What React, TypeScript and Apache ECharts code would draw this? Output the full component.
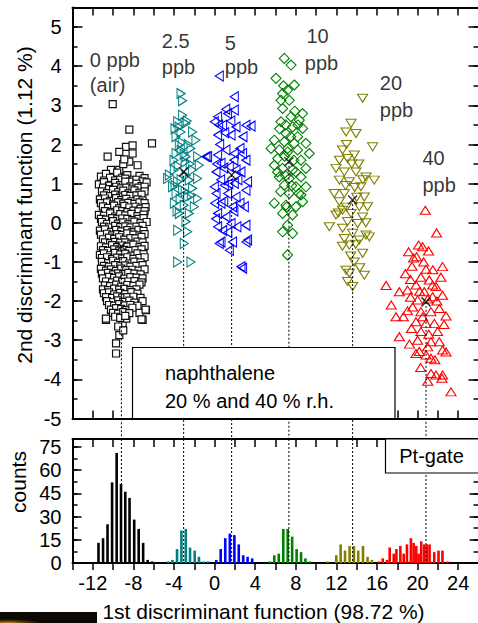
import React, { useEffect, useRef } from "react";
import * as echarts from "echarts";

const FONT = "Liberation Sans, Arial, sans-serif";

// ---------- scatter clusters (1st DF, 2nd DF) ----------
const blackPts: number[][] = [
  [-10.04, 3.03], [-8.4, 2.38], [-6.17, 2.03], [-8.73, 1.94], [-8.08, 1.98], [-9.39, 1.81], [-10.54, 1.69], [-8.08, 1.77],
  [-8.4, 1.56], [-10.21, 1.35], [-9.39, 1.35], [-7.59, 1.47], [-9.0, 1.5], [-8.9, 1.62],
  [-9.71, -3.08], [-9.71, -3.34], [-6.76, -2.23], [-7.09, -2.48], [-9.06, -2.57], [-9.39, -2.87], [-10.7, -2.48],
  [-10.21, -2.23], [-9.5, -2.65], [-8.7, -2.45], [-9.0, -2.75], [-7.4, -2.3],
  [-11.2, 1.18], [-10.7, 1.25], [-10.1, 1.12], [-9.6, 1.28], [-9.1, 1.15], [-8.6, 1.22], [-8.0, 1.1], [-7.4, 1.2], [-6.9, 1.14],
  [-10.9, 1.08], [-10.3, 1.15], [-9.8, 1.08], [-9.3, 1.1], [-8.8, 1.13], [-8.3, 1.05], [-7.7, 1.1], [-7.1, 1.06],
  [-11.4, 0.98], [-10.9, 1.04], [-10.4, 0.95], [-9.8, 1.02], [-9.3, 0.96], [-8.8, 1.05], [-8.3, 0.93], [-7.7, 1.0], [-7.2, 0.94], [-6.7, 1.03],
  [-11.0, 0.9], [-10.4, 0.86], [-9.7, 0.92], [-9.2, 0.88], [-8.7, 0.9], [-8.1, 0.87], [-7.5, 0.9], [-6.9, 0.92],
  [-11.1, 0.8], [-10.6, 0.76], [-10.0, 0.84], [-9.5, 0.78], [-9.0, 0.82], [-8.5, 0.75], [-7.9, 0.83], [-7.4, 0.77], [-6.9, 0.8],
  [-10.9, 0.7], [-10.3, 0.68], [-9.8, 0.72], [-9.3, 0.67], [-8.8, 0.71], [-8.3, 0.69], [-7.7, 0.7], [-7.2, 0.72],
  [-11.3, 0.6], [-10.8, 0.62], [-10.3, 0.56], [-9.7, 0.63], [-9.2, 0.58], [-8.7, 0.61], [-8.2, 0.55], [-7.6, 0.6], [-7.1, 0.57],
  [-11.2, 0.5], [-10.6, 0.52], [-10.0, 0.47], [-9.5, 0.53], [-9.0, 0.49], [-8.5, 0.51], [-7.9, 0.48], [-7.4, 0.52], [-6.9, 0.5],
  [-11.0, 0.42], [-10.5, 0.38], [-9.9, 0.44], [-9.4, 0.37], [-8.9, 0.43], [-8.4, 0.39], [-7.8, 0.41], [-7.3, 0.36], [-6.8, 0.4],
  [-10.8, 0.3], [-10.2, 0.28], [-9.6, 0.32], [-9.1, 0.3], [-8.6, 0.27], [-8.0, 0.31], [-7.5, 0.29], [-6.9, 0.3],
  [-11.4, 0.2], [-10.9, 0.18], [-10.3, 0.24], [-9.8, 0.16], [-9.3, 0.22], [-8.8, 0.19], [-8.2, 0.23], [-7.6, 0.17], [-7.0, 0.21],
  [-11.2, 0.1], [-10.7, 0.08], [-10.1, 0.12], [-9.6, 0.09], [-9.1, 0.11], [-8.6, 0.1], [-8.1, 0.07], [-7.5, 0.1], [-7.0, 0.12],
  [-11.1, 0.02], [-10.6, -0.03], [-10.0, 0.04], [-9.5, -0.02], [-9.0, 0.01], [-8.5, -0.04], [-7.9, 0.03], [-7.3, -0.01], [-6.7, 0.02],
  [-10.9, -0.1], [-10.4, -0.12], [-9.8, -0.08], [-9.3, -0.11], [-8.8, -0.09], [-8.3, -0.12], [-7.7, -0.1], [-7.1, -0.08],
  [-11.3, -0.2], [-10.8, -0.17], [-10.2, -0.23], [-9.7, -0.18], [-9.2, -0.22], [-8.6, -0.19], [-8.1, -0.24], [-7.5, -0.18], [-7.0, -0.21],
  [-11.2, -0.3], [-10.6, -0.28], [-10.1, -0.32], [-9.6, -0.29], [-9.1, -0.31], [-8.6, -0.27], [-8.0, -0.3], [-7.4, -0.32], [-6.9, -0.29],
  [-11.0, -0.42], [-10.4, -0.38], [-9.9, -0.41], [-9.4, -0.37], [-8.9, -0.43], [-8.3, -0.39], [-7.8, -0.4], [-7.2, -0.36],
  [-10.8, -0.5], [-10.3, -0.52], [-9.8, -0.49], [-9.3, -0.51], [-8.8, -0.5], [-8.2, -0.53], [-7.6, -0.48], [-7.1, -0.5],
  [-11.2, -0.6], [-10.7, -0.63], [-10.1, -0.57], [-9.6, -0.62], [-9.1, -0.58], [-8.6, -0.61], [-8.0, -0.56], [-7.4, -0.62], [-6.9, -0.59],
  [-11.0, -0.7], [-10.5, -0.72], [-9.9, -0.68], [-9.4, -0.71], [-8.9, -0.69], [-8.4, -0.72], [-7.8, -0.7], [-7.2, -0.68],
  [-11.3, -0.82], [-10.9, -0.78], [-10.3, -0.83], [-9.8, -0.77], [-9.3, -0.81], [-8.8, -0.79], [-8.2, -0.84], [-7.6, -0.78], [-7.0, -0.8],
  [-11.1, -0.9], [-10.6, -0.88], [-10.1, -0.92], [-9.6, -0.89], [-9.1, -0.91], [-8.6, -0.88], [-8.0, -0.92], [-7.4, -0.9], [-6.9, -0.88],
  [-11.1, -1.0], [-10.5, -1.03], [-10.0, -0.97], [-9.5, -1.02], [-9.0, -0.98], [-8.4, -1.04], [-7.9, -0.99], [-7.3, -1.01],
  [-10.9, -1.1], [-10.4, -1.12], [-9.8, -1.08], [-9.3, -1.11], [-8.8, -1.09], [-8.3, -1.12], [-7.7, -1.1], [-7.1, -1.08],
  [-11.2, -1.18], [-10.7, -1.22], [-10.2, -1.19], [-9.7, -1.23], [-9.2, -1.17], [-8.7, -1.21], [-8.1, -1.2], [-7.5, -1.22], [-6.9, -1.19],
  [-11.1, -1.3], [-10.5, -1.28], [-10.0, -1.32], [-9.5, -1.29], [-9.0, -1.31], [-8.5, -1.28], [-7.9, -1.3], [-7.3, -1.32],
  [-11.0, -1.42], [-10.4, -1.38], [-9.9, -1.41], [-9.4, -1.37], [-8.9, -1.43], [-8.3, -1.39], [-7.7, -1.4], [-7.1, -1.42],
  [-10.7, -1.5], [-10.1, -1.52], [-9.6, -1.48], [-9.1, -1.51], [-8.5, -1.5], [-7.9, -1.49], [-7.2, -1.52],
  [-10.8, -1.6], [-10.3, -1.62], [-9.7, -1.58], [-9.2, -1.63], [-8.6, -1.59], [-8.0, -1.61], [-7.4, -1.58],
  [-11.0, -1.7], [-10.5, -1.72], [-9.9, -1.68], [-9.4, -1.71], [-8.9, -1.69], [-8.3, -1.72], [-7.7, -1.7],
  [-10.9, -1.8], [-10.4, -1.78], [-9.9, -1.83], [-9.3, -1.79], [-8.8, -1.82], [-8.2, -1.77], [-7.6, -1.81],
  [-10.7, -1.9], [-10.1, -1.92], [-9.6, -1.88], [-9.1, -1.91], [-8.6, -1.9], [-8.0, -1.89], [-7.3, -1.92],
  [-10.6, -2.0], [-10.0, -2.03], [-9.5, -1.98], [-9.0, -2.02], [-8.4, -1.99], [-7.9, -2.04], [-7.1, -2.0],
  [-10.4, -2.1], [-9.9, -2.12], [-9.4, -2.08], [-8.9, -2.11], [-8.3, -2.1], [-7.6, -2.12],
  [-10.2, -2.22], [-9.7, -2.18], [-9.2, -2.2], [-8.7, -2.23], [-8.1, -2.17], [-6.8, -2.22],
  [-10.0, -2.3], [-9.5, -2.32], [-9.0, -2.28], [-8.4, -2.31],
  [-10.7, -2.45], [-9.8, -2.4], [-9.3, -2.43], [-8.8, -2.38], [-7.2, -2.47],
];

const tealPts: number[][] = [
  [-3.31, 3.3], [-3.15, 3.12], [-3.15, 2.75], [-3.64, 2.58], [-2.82, 2.54], [-3.31, 2.32], [-3.8, 2.2], [-2.17, 2.32],
  [-1.84, 2.11], [-3.48, 1.98], [-2.33, 1.9], [-3.8, 1.77], [-2.82, 1.69], [-1.67, 1.69], [-4.46, 1.22], [-3.97, 1.35],
  [-2.17, 1.35], [-1.51, 1.47], [-4.63, 1.13], [-3.64, 1.05], [-2.49, 1.09], [-1.67, 1.13], [-4.14, 0.92], [-3.15, 0.84],
  [-2.17, 0.88], [-3.8, 0.75], [-2.66, 0.66], [-1.67, 0.62], [-3.97, 0.5], [-2.99, 0.45], [-2.0, 0.41], [-3.48, 0.24],
  [-2.49, 0.24], [-2.82, 0.03], [-3.64, -0.19], [-2.66, -0.23], [-2.99, -0.53], [-3.64, -1.0], [-2.33, -1.0],
  [-3.5, 2.45], [-2.6, 2.0], [-3.3, 1.85], [-4.0, 1.6], [-2.9, 1.55], [-3.6, 1.45], [-2.4, 1.5], [-3.3, 1.1], [-2.8, 1.2],
  [-3.9, 0.95], [-2.3, 0.7], [-3.4, 0.6], [-2.9, 0.8], [-3.7, 0.3], [-3.2, 2.05], [-2.7, 2.6], [-3.9, 2.4], [-3.0, 1.75],
];

const bluePts: number[][] = [
  [0.46, 3.75], [1.94, 3.22], [0.3, 2.71], [1.28, 2.79], [1.94, 2.88], [-0.03, 2.58], [0.79, 2.49], [2.11, 2.45],
  [1.62, 2.24], [0.3, 2.24], [-0.69, 1.69], [0.3, 1.73], [1.12, 1.86], [1.94, 1.77], [0.63, 1.52], [1.45, 1.43],
  [2.11, 1.35], [0.14, 1.3], [-0.03, 0.92], [0.96, 0.96], [1.94, 1.01], [0.14, 0.75], [1.28, 0.75], [2.11, 0.66],
  [0.63, 0.5], [1.77, 0.41], [0.3, 0.24], [1.12, 0.15], [0.3, -0.1], [1.62, -0.02], [0.63, -0.49], [1.77, -0.49],
  [1.45, -0.7], [2.6, -1.12], [3.09, -0.49], [3.09, 1.6], [3.09, 2.49], [-0.85, 1.69], [0.46, -0.53],
  [3.59, 2.47], [2.76, 1.77], [3.25, 1.05], [3.09, 0.83], [2.93, 0.41], [3.09, -0.06], [3.25, -0.44], [2.76, -1.16],
  [0.5, 2.0], [1.0, 2.3], [1.6, 2.6], [0.2, 1.5], [0.9, 1.4], [1.9, 1.6], [2.5, 1.9], [0.6, 1.1], [1.4, 1.0], [2.3, 1.1],
  [0.0, 0.5], [0.9, 0.55], [1.9, 0.3], [2.5, 0.5], [0.8, -0.2], [1.3, -0.25], [2.2, -0.1], [0.1, 0.1], [2.8, 2.2],
  [2.6, 1.3], [1.1, 2.9], [0.4, 2.5],
];

const greenPts: number[][] = [
  [6.87, 4.2], [7.53, 4.03], [6.05, 3.69], [7.85, 3.52], [7.19, 3.39], [6.7, 3.3], [6.54, 3.13], [7.36, 3.13],
  [6.7, 2.92], [8.67, 2.79], [7.53, 2.71], [8.34, 2.62], [6.54, 2.58], [7.68, 2.45], [8.67, 2.41], [7.03, 2.28],
  [8.18, 2.2], [5.88, 2.11], [6.87, 2.07], [7.85, 2.03], [9.0, 2.03], [5.56, 1.9], [6.37, 1.86], [7.19, 1.81],
  [8.18, 1.86], [9.33, 1.77], [6.21, 1.64], [8.51, 1.6], [5.88, 1.47], [6.7, 1.39], [7.68, 1.35], [9.0, 1.39],
  [6.37, 1.17], [7.36, 1.13], [8.51, 1.17], [6.87, 0.96], [8.02, 0.92], [9.0, 0.92], [7.36, 0.75], [8.51, 0.71],
  [5.88, 0.5], [7.03, 0.45], [8.02, 0.41], [8.67, 0.54], [6.7, 0.24], [7.68, 0.2], [7.19, -0.06], [6.7, -0.23],
  [7.68, -0.27], [7.19, -0.82],
  [7.0, 2.5], [7.5, 2.2], [6.4, 2.4], [8.2, 2.5], [7.8, 1.6], [6.9, 1.7], [7.2, 1.9], [8.0, 1.3], [6.5, 0.8],
  [7.6, 0.95], [7.1, 0.4], [8.3, 0.75], [7.0, 1.2], [6.2, 1.3], [7.9, 2.85], [6.8, 3.5],
];

const olivePts: number[][] = [
  [14.58, 3.18], [13.44, 2.54], [12.95, 2.32], [13.93, 2.28], [15.57, 1.94], [12.61, 1.86], [13.76, 1.73], [13.1, 1.64],
  [11.96, 1.39], [12.78, 1.3], [13.93, 1.3], [14.92, 1.17], [15.73, 1.09], [12.29, 1.09], [13.27, 1.05], [14.42, 0.92],
  [11.79, 0.75], [12.78, 0.75], [14.75, 0.66], [12.29, 0.54], [14.26, 0.41], [15.07, 0.41], [12.61, 0.32], [13.44, 0.24],
  [11.96, 0.2], [14.58, 0.15], [13.1, 0.03], [14.09, -0.02], [11.3, -0.1], [12.61, -0.14], [13.6, -0.27], [14.92, -0.31],
  [12.78, -0.4], [14.26, -0.44], [13.27, -0.57], [15.24, -0.36], [14.58, -0.78], [13.76, -1.0], [12.95, -1.21],
  [14.75, -1.34], [13.6, -1.63], [13.27, -1.29],
  [13.0, 2.0], [13.5, 1.5], [12.3, 1.6], [14.2, 1.5], [14.6, 1.1], [13.0, 0.4], [14.0, 0.65], [12.2, 0.25], [14.9, 0.0],
  [13.9, -0.55], [12.6, -0.6], [13.4, -0.85], [14.3, -1.15], [13.1, -1.5], [12.9, 0.95], [13.8, 0.9],
];

const redPts: number[][] = [
  [20.76, 0.32], [21.87, -0.26], [20.1, -0.57], [20.49, -0.61], [19.11, -0.74], [21.08, -0.72], [19.9, -0.87],
  [19.45, -1.11], [20.83, -1.19], [22.46, -1.12], [20.33, -1.39], [22.3, -1.39], [21.15, -1.46], [19.84, -1.59],
  [21.48, -1.59], [19.01, -1.72], [18.2, -1.76], [21.81, -1.63], [20.66, -1.76], [22.46, -1.85], [21.48, -1.89],
  [20.0, -1.97], [22.14, -2.19], [19.51, -2.15], [19.01, -2.25], [20.33, -2.27], [21.32, -2.27], [22.8, -2.38],
  [17.87, -2.4], [19.84, -2.53], [20.83, -2.57], [21.65, -2.57], [20.33, -2.78], [21.97, -2.78], [18.2, -2.91],
  [22.14, -3.04], [21.32, -3.04], [20.99, -3.17], [22.46, -3.25], [20.17, -3.29], [19.84, -3.34], [21.32, -3.46],
  [21.32, -3.85], [22.4, -3.97], [23.29, -4.32], [20.83, -3.38], [21.81, -3.89], [22.46, -3.89],
  [19.6, -0.9], [20.6, -1.0], [21.5, -1.2], [19.3, -1.45], [20.2, -1.75], [21.0, -1.95], [19.3, -1.9], [21.9, -2.0],
  [20.5, -2.4], [19.4, -2.7], [21.1, -2.85], [20.0, -3.0], [22.8, -3.3], [21.7, -3.5], [19.2, -3.1], [16.9, -1.6],
  [17.4, -2.1], [18.6, -2.4], [18.8, -1.3], [22.6, -2.6], [20.3, -3.7], [21.0, -4.05],
];

// cluster means (x markers)
const means: number[][] = [
  [-9.18, -0.6], [-3.05, 1.3], [1.68, 1.22], [7.32, 1.56], [13.6, 0.58], [20.83, -2.02],
];

// ---------- histograms of 1st DF: [bin centre, counts] ----------
const histBlack: number[][] = [
  [-11.44, 13], [-10.99, 16], [-10.55, 25], [-10.1, 52], [-9.65, 71], [-9.22, 51], [-8.8, 46], [-8.38, 42],
  [-7.92, 28], [-7.48, 22], [-7.04, 13], [-6.6, 2], [-6.16, 1],
];
const histTeal: number[][] = [
  [-4.58, 1], [-4.15, 2], [-3.7, 9], [-3.27, 21], [-2.84, 22], [-2.42, 10], [-1.96, 8], [-1.54, 4], [-1.08, 1], [-0.66, 1],
];
const histBlue: number[][] = [
  [0.16, 2], [0.6, 9], [1.05, 16], [1.5, 19], [1.95, 18], [2.38, 12], [2.82, 5], [3.25, 4], [3.7, 3],
];
const histGreen: number[][] = [
  [5.45, 1], [5.88, 5], [6.32, 6], [6.77, 22], [7.2, 22], [7.64, 17], [8.08, 9], [8.52, 7], [8.95, 3], [9.4, 1],
];
const histOlive: number[][] = [
  [11.1, 1], [11.99, 5], [12.42, 12], [12.85, 8], [13.3, 11], [13.73, 11], [14.15, 8], [14.62, 11], [15.07, 4], [15.5, 2],
];
const histRed: number[][] = [
  [16.18, 1], [16.57, 3], [16.99, 2], [17.25, 10], [17.65, 6], [17.91, 9], [18.3, 11], [18.63, 6], [18.95, 12],
  [19.34, 16], [19.61, 13], [19.87, 11], [20.1, 6], [20.36, 14], [20.66, 12], [20.91, 12], [21.18, 12], [21.64, 7],
  [22.06, 8], [22.45, 8], [22.94, 1],
];

// ---------- annotations [x, y, text] ----------
const annotations: [number, number, string][] = [
  [-12.34, 4.16, "0 ppb"], [-12.34, 3.52, "(air)"],
  [-5.25, 4.64, "2.5"], [-5.25, 3.99, "ppb"],
  [0.96, 4.6, "5"], [0.96, 3.98, "ppb"],
  [9.0, 4.76, "10"], [8.84, 4.08, "ppb"],
  [16.23, 3.57, "20"], [16.23, 2.88, "ppb"],
  [20.43, 1.65, "40"], [20.43, 0.97, "ppb"],
];

const COLORS = ["#000000", "#008080", "#0000ff", "#008000", "#808000", "#ff0000"];

export default function App() {
  const ref = useRef<HTMLDivElement>(null);

  useEffect(() => {
    const chart = echarts.init(ref.current!, null, { renderer: "svg" });

    const line = { show: true, onZero: false, lineStyle: { color: "#000", width: 2 } };
    const noLine = { show: false, onZero: false };

    const xAx = (grid: number, pos: string, inside: boolean, len: number, labels: boolean) => ({
      type: "value", gridIndex: grid, position: pos, min: -14, max: 26, interval: 2,
      axisLine: line,
      axisTick: { show: true, inside, length: len, lineStyle: { color: "#000", width: 1.5 } },
      axisLabel: labels
        ? {
            show: true, fontSize: 20, fontFamily: FONT, color: "#000", margin: 10,
            formatter: (v: number) => (v % 4 === 0 ? String(v) : ""),
          }
        : { show: false },
      splitLine: { show: false },
    });

    const yAx = (grid: number, pos: string, min: number, max: number, interval: number, len: number,
      major: boolean, labels: boolean, step: number) => ({
      type: "value", gridIndex: grid, position: pos, min, max, interval,
      axisLine: major ? line : noLine,
      axisTick: { show: true, inside: true, length: len, lineStyle: { color: "#000", width: 1.5 } },
      axisLabel: labels
        ? {
            show: true, fontSize: 20, fontFamily: FONT, color: "#000", margin: 11,
            formatter: (v: number) => (Math.abs(v / step - Math.round(v / step)) < 1e-6 ? String(v) : ""),
          }
        : { show: false },
      splitLine: { show: false },
    });

    const scat = (data: number[][], symbol: string, size: any, rotate: number, color: string, fill: string, bw: number) => ({
      type: "scatter", xAxisIndex: 0, yAxisIndex: 0, data, symbol, symbolSize: size, symbolRotate: rotate,
      itemStyle: { color: fill, borderColor: color, borderWidth: bw, opacity: 1 },
      z: 2, silent: true,
    });

    const hists = [histBlack, histTeal, histBlue, histGreen, histOlive, histRed];

    const histSeries = hists.map((h, i) => ({
      type: "custom", xAxisIndex: 2, yAxisIndex: 4, data: h, encode: { x: 0, y: 1 }, silent: true, z: 2,
      renderItem: (_p: any, api: any) => {
        const x = api.value(0);
        const y = api.value(1);
        const p0 = api.coord([x, 0]);
        const p1 = api.coord([x, y]);
        const w = 2.6;
        return {
          type: "rect",
          shape: { x: p0[0] - w / 2, y: p1[1], width: w, height: p0[1] - p1[1] },
          style: { fill: COLORS[i] },
        };
      },
    }));

    const topLines = means.map((m) => ({
      type: "line", xAxisIndex: 0, yAxisIndex: 0, data: [[m[0], m[1]], [m[0], -5.53]], symbol: "none",
      clip: false, silent: true, z: 4, lineStyle: { color: "#000", width: 1, type: [2, 2] },
    }));
    const botLines = means.map((m) => ({
      type: "line", xAxisIndex: 2, yAxisIndex: 4, data: [[m[0], 80], [m[0], 0]], symbol: "none",
      clip: false, silent: true, z: 4, lineStyle: { color: "#000", width: 1, type: [2, 2] },
    }));

    const option: any = {
      animation: false,
      backgroundColor: "#fff",
      grid: [
        { left: 72.5, top: 7.5, width: 406, height: 411, outerBoundsMode: "none", containLabel: false },
        { left: 72.5, top: 439, width: 406, height: 124, outerBoundsMode: "none", containLabel: false },
      ],
      xAxis: [
        xAx(0, "bottom", true, 8, false),
        xAx(0, "top", true, 8, false),
        xAx(1, "bottom", false, 7, true),
        xAx(1, "top", true, 8, false),
      ],
      yAxis: [
        yAx(0, "left", -5, 5.5, 1, 10, true, true, 1),
        yAx(0, "left", -5, 5.5, 0.5, 5, false, false, 1),
        yAx(0, "right", -5, 5.5, 1, 10, true, false, 1),
        yAx(0, "right", -5, 5.5, 0.5, 5, false, false, 1),
        yAx(1, "left", 0, 80, 15, 9, true, true, 15),
        yAx(1, "left", 0, 80, 7.5, 5, false, false, 15),
        yAx(1, "right", 0, 80, 15, 9, true, false, 15),
        yAx(1, "right", 0, 80, 7.5, 5, false, false, 15),
      ],
      series: [
        scat(blackPts, "rect", 7, 0, "#111", "#fff", 1.2),
        scat(tealPts, "triangle", [10, 8], -90, COLORS[1], "rgba(0,0,0,0)", 1.1),
        scat(bluePts, "triangle", [10, 8], 90, COLORS[2], "rgba(0,0,0,0)", 1.1),
        scat(greenPts, "diamond", [10, 10], 0, COLORS[3], "rgba(0,0,0,0)", 1.1),
        scat(olivePts, "triangle", [10, 8], 180, COLORS[4], "rgba(0,0,0,0)", 1.1),
        scat(redPts, "triangle", [10, 8], 0, COLORS[5], "rgba(0,0,0,0)", 1.1),
        ...topLines,
        ...botLines,
        {
          type: "scatter", xAxisIndex: 0, yAxisIndex: 0, data: means, symbol: "path://M0 0L10 10M10 0L0 10",
          symbolSize: 9, itemStyle: { color: "rgba(0,0,0,0)", borderColor: "#000", borderWidth: 1.5 }, z: 5, silent: true,
        },
        ...histSeries,
        {
          type: "scatter", xAxisIndex: 0, yAxisIndex: 0, silent: true, z: 6,
          data: annotations.map((a) => ({ value: [a[0], a[1]], name: a[2] })),
          symbolSize: 1, itemStyle: { color: "rgba(0,0,0,0)" },
          label: {
            show: true, position: "right", distance: 0, formatter: "{b}", fontSize: 20, fontFamily: FONT, color: "#000",
          },
        },
      ],
      graphic: [
        {
          type: "rect", z: 100, shape: { x: 132.5, y: 347.5, width: 262.5, height: 71 },
          style: { fill: "#fff", stroke: "#000", lineWidth: 1.2 },
        },
        { type: "text", z: 101, x: 165, y: 373, style: { text: "naphthalene", fontSize: 20, fontFamily: FONT, fill: "#000", align: "left", verticalAlign: "middle" } },
        { type: "text", z: 101, x: 165, y: 401, style: { text: "20 % and 40 % r.h.", fontSize: 20, fontFamily: FONT, fill: "#000", align: "left", verticalAlign: "middle" } },
        {
          type: "rect", z: 100, shape: { x: 385.5, y: 439, width: 95, height: 34 },
          style: { fill: "#fff", stroke: "#000", lineWidth: 1.2 },
        },
        { type: "text", z: 101, x: 431.5, y: 456, style: { text: "Pt-gate", fontSize: 20, fontFamily: FONT, fill: "#000", align: "center", verticalAlign: "middle" } },
        { type: "text", z: 101, x: 263.5, y: 611, style: { text: "1st discriminant function (98.72 %)", fontSize: 21, fontFamily: FONT, fill: "#000", align: "center", verticalAlign: "middle" } },
        { type: "text", z: 101, x: 24.3, y: 205, rotation: Math.PI / 2, style: { text: "2nd discriminant function (1.12 %)", fontSize: 21, fontFamily: FONT, fill: "#000", align: "center", verticalAlign: "middle" } },
        { type: "text", z: 101, x: 18, y: 482, rotation: Math.PI / 2, style: { text: "counts", fontSize: 21, fontFamily: FONT, fill: "#000", align: "center", verticalAlign: "middle" } },
        {
          type: "rect", z: 100, shape: { x: 0, y: 612, width: 97, height: 11 },
          style: {
            fill: new echarts.graphic.RadialGradient(0.08, 1, 0.35, [
              { offset: 0, color: "#c8902a" },
              { offset: 0.5, color: "#5a3810" },
              { offset: 1, color: "#0c0904" },
            ]),
          },
        },
      ],
    };

    chart.setOption(option);
    return () => chart.dispose();
  }, []);

  return (
    <div
      ref={ref}
      style={{ position: "fixed", left: 0, top: 0, width: 478, height: 623, background: "#fff" }}
    />
  );
}
